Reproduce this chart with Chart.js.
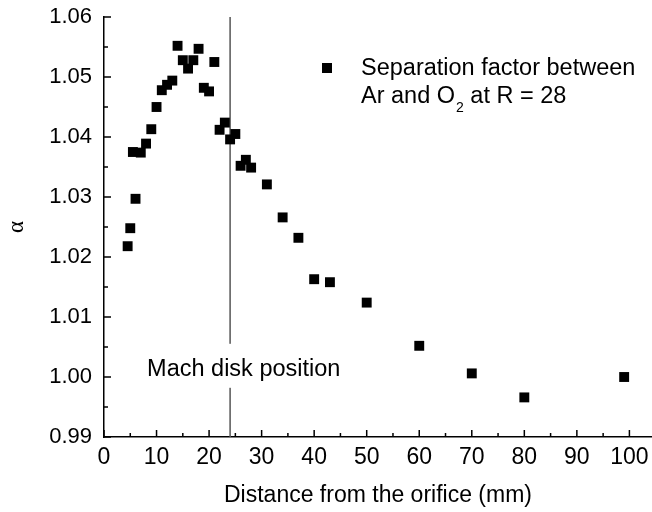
<!DOCTYPE html>
<html><head><meta charset="utf-8">
<script src="https://cdn.jsdelivr.net/npm/chart.js@4.4.0/dist/chart.umd.min.js"></script>
<style>html,body{margin:0;padding:0;background:#fff}#wrap{width:652px;height:512px}</style>
</head><body><div id="wrap"><canvas id="c" width="652" height="512"></canvas></div>
<script>
const distances = [4.5,5,5.5,6,7,8,9,10,11,12,13,14,15,16,17,18,19,20,21,22,23,24,25,26,27,28,31,34,37,40,43,50,60,70,80,99];
const alphaValues = [1.0218,1.0248,1.0375,1.0297,1.0374,1.0389,1.0413,1.0450,1.0478,1.0487,1.0494,1.0552,1.0528,1.0514,1.0528,1.0547,1.0482,1.0476,1.0525,1.0412,1.0424,1.0396,1.0405,1.0352,1.0362,1.0349,1.0321,1.0266,1.0232,1.0163,1.0158,1.0124,1.0052,1.0006,0.9966,1.0000];
const xTicks = [0,10,20,30,40,50,60,70,80,90,100];
const xMinorTicks = [5,15,25,35,45,55,65,75,85,95];
const yTicks = [0.99,1.00,1.01,1.02,1.03,1.04,1.05,1.06];
const yMinorTicks = [0.995,1.005,1.015,1.025,1.035,1.045,1.055];
const machDiskX = 24;
const seriesLabel1 = 'Separation factor between';
const seriesLabel2a = 'Ar and O';
const seriesLabel2sub = '2';
const seriesLabel2b = ' at R = 28';
const machLabel = 'Mach disk position';

const FONT = '"Liberation Sans", Arial, sans-serif';

const annot = {
  id: 'annot',
  beforeDatasetsDraw(chart) {
    const {ctx, scales: {x, y}} = chart;
    ctx.save();
    // Mach disk line
    const mx = x.getPixelForValue(machDiskX);
    ctx.strokeStyle = '#555';
    ctx.lineWidth = 1.5;
    ctx.beginPath();
    ctx.moveTo(mx, y.getPixelForValue(1.06));
    ctx.lineTo(mx, y.getPixelForValue(0.99));
    ctx.stroke();
    // inward ticks
    ctx.strokeStyle = '#000';
    ctx.lineWidth = 1.5;
    const xb = y.getPixelForValue(0.99);
    const yl = x.getPixelForValue(0);
    ctx.beginPath();
    xTicks.forEach(v => { const p = x.getPixelForValue(v); ctx.moveTo(p, xb); ctx.lineTo(p, xb - 7); });
    xMinorTicks.forEach(v => { const p = x.getPixelForValue(v); ctx.moveTo(p, xb); ctx.lineTo(p, xb - 4); });
    yTicks.forEach(v => { const p = y.getPixelForValue(v); ctx.moveTo(yl, p); ctx.lineTo(yl + 7, p); });
    yMinorTicks.forEach(v => { const p = y.getPixelForValue(v); ctx.moveTo(yl, p); ctx.lineTo(yl + 4, p); });
    ctx.stroke();
    // x tick labels
    ctx.fillStyle = '#000';
    ctx.font = '23px ' + FONT;
    ctx.textAlign = 'center';
    ctx.textBaseline = 'alphabetic';
    xTicks.forEach(v => ctx.fillText(String(v), x.getPixelForValue(v), xb + 27));
    // Mach label with white background
    ctx.font = '23.5px ' + FONT;
    ctx.textAlign = 'left';
    const lx = x.getPixelForValue(8.2), ly = y.getPixelForValue(1.0002);
    const w = ctx.measureText(machLabel).width;
    ctx.fillStyle = '#fff';
    ctx.fillRect(lx - 3, ly - 32, w + 6, 44);
    ctx.fillStyle = '#000';
    ctx.fillText(machLabel, lx, ly);
    // Legend
    ctx.fillRect(322, 63, 10, 10);
    ctx.fillText(seriesLabel1, 361, 75);
    let tx = 361;
    ctx.fillText(seriesLabel2a, tx, 103);
    tx += ctx.measureText(seriesLabel2a).width;
    ctx.font = '14px ' + FONT;
    ctx.fillText(seriesLabel2sub, tx + 1, 112);
    tx += ctx.measureText(seriesLabel2sub).width + 1;
    ctx.font = '23.5px ' + FONT;
    ctx.fillText(seriesLabel2b, tx, 103);
    ctx.restore();
  }
};

new Chart(document.getElementById('c'), {
  type: 'scatter',
  data: {
    datasets: [{
      data: distances.map((d, i) => ({x: d, y: alphaValues[i]})),
      pointStyle: 'rect',
      pointRadius: 7,
      pointHoverRadius: 7,
      backgroundColor: '#000',
      borderWidth: 0
    }]
  },
  options: {
    responsive: false,
    animation: false,
    devicePixelRatio: 1,
    layout: {autoPadding: false, padding: {top: 17, right: 0, left: 0, bottom: 0}},
    plugins: {legend: {display: false}, tooltip: {enabled: false}},
    scales: {
      x: {
        type: 'linear', min: 0, max: 104.3,
        afterBuildTicks: s => { s.ticks = xTicks.map(v => ({value: v})); },
        afterFit: s => { s.height = 75; s.paddingLeft = 0; s.paddingRight = 0; },
        ticks: {display: false},
        grid: {display: true, drawOnChartArea: false, drawTicks: false},
        border: {display: true, color: '#000', width: 1.5},
        title: {display: true, text: 'Distance from the orifice (mm)', font: {family: FONT, size: 23}, color: '#000', padding: {top: 0, bottom: 3}}
      },
      y: {
        type: 'linear', min: 0.99, max: 1.06,
        afterBuildTicks: s => { s.ticks = yTicks.map(v => ({value: v})); },
        afterFit: s => { s.width = 104; s.paddingTop = 0; s.paddingBottom = 0; },
        ticks: {font: {family: FONT, size: 22}, color: '#000', padding: 12, autoSkip: false,
          callback: v => Number(v).toFixed(2)},
        grid: {display: true, drawOnChartArea: false, drawTicks: false},
        border: {display: true, color: '#000', width: 1.5},
        title: {display: true, text: 'α', font: {family: '"Liberation Serif", serif', size: 23, lineHeight: 1}, color: '#000', padding: {top: 5, bottom: 0}}
      }
    }
  },
  plugins: [annot]
});
</script>
</body></html>
